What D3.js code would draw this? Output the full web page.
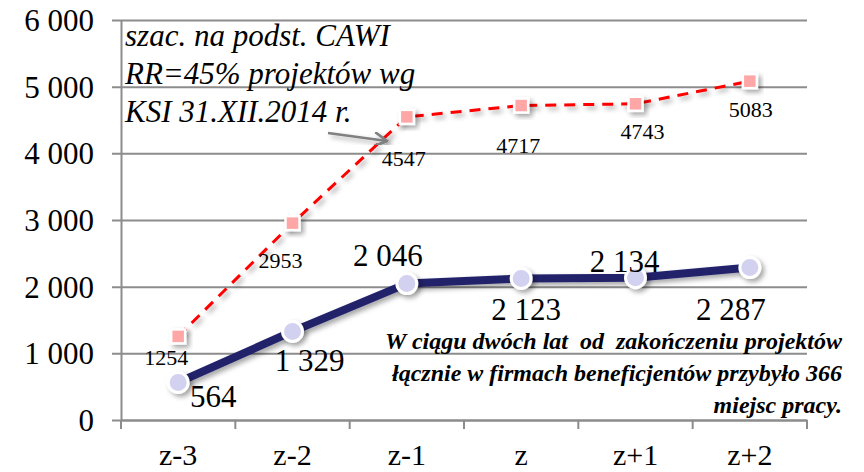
<!DOCTYPE html>
<html>
<head>
<meta charset="utf-8">
<script src="https://cdn.jsdelivr.net/npm/d3@7"></script>
<style>
  body { margin: 0; background: #fff; }
  svg text { font-family: "Liberation Serif", "Times New Roman", Tinos, "DejaVu Serif", serif; }
</style>
</head>
<body>
<svg id="chart" width="864" height="472"></svg>
<script>
// data
var categories = ["z-3", "z-2", "z-1", "z", "z+1", "z+2"];
var jobsKsi = [564, 1329, 2046, 2123, 2134, 2287];
var jobsCawi = [1254, 2953, 4547, 4717, 4743, 5083];
var yTicks = [0, 1000, 2000, 3000, 4000, 5000, 6000];

// label offsets (dx, dy) from each point
var ksiLabelPos = [[35, 25], [17, 40], [-19, -18], [5, 42], [-11, -6], [-19, 52]];
var cawiLabelPos = [[-12, 29], [-12, 45], [-3, 49], [-3, 47], [7, 35], [1, 36]];

var svg = d3.select("#chart");

var plotLeft = 121, plotRight = 807, plotTop = 20, plotBottom = 420;

var x = d3.scaleBand()
    .domain(categories)
    .range([plotLeft, plotRight]);

var y = d3.scaleLinear()
    .domain([0, 6000])
    .range([plotBottom, plotTop]);

var fmt = d => d3.format(",")(d).replace(",", " ");

// shadow filter
var defs = svg.append("defs");
var shadow = defs.append("filter")
    .attr("id", "shadow")
    .attr("x", "-50%").attr("y", "-50%")
    .attr("width", "200%").attr("height", "200%");
shadow.append("feDropShadow")
    .attr("dx", 3).attr("dy", 3)
    .attr("stdDeviation", 2.5)
    .attr("flood-color", "#000")
    .attr("flood-opacity", 0.35);

defs.append("marker")
    .attr("id", "arrow")
    .attr("viewBox", "0 0 10 10")
    .attr("refX", 9).attr("refY", 5)
    .attr("markerWidth", 6).attr("markerHeight", 6)
    .attr("orient", "auto")
    .append("path")
    .attr("d", "M0,0 L9,5 L0,10")
    .attr("fill", "none")
    .attr("stroke", "#808080")
    .attr("stroke-width", 1.8);

// gridlines + y axis
var yAxis = svg.append("g")
    .attr("transform", "translate(" + plotLeft + ",0)")
    .call(d3.axisLeft(y).tickValues(yTicks).tickSize(-(plotRight - plotLeft)).tickSizeOuter(0).tickPadding(27)
        .tickFormat(fmt));
yAxis.select(".domain").attr("stroke", "#8c8c8c").attr("stroke-width", 2);
yAxis.selectAll(".tick line").attr("stroke", "#8c8c8c").attr("stroke-width", 2).attr("x1", -9);
yAxis.selectAll(".tick text")
    .attr("fill", "#000")
    .style("font-size", "31px")
    .attr("dy", "0.34em");

// x axis
var xAxis = svg.append("g")
    .attr("transform", "translate(0," + plotBottom + ")")
    .call(d3.axisBottom(x).tickSize(0).tickPadding(0));
xAxis.select(".domain").attr("stroke", "#8c8c8c").attr("stroke-width", 2);
xAxis.selectAll(".tick text")
    .attr("fill", "#000")
    .attr("dy", 0)
    .attr("y", 45)
    .style("font-size", "30px");
xAxis.selectAll(".sep")
    .data(d3.range(categories.length + 1))
    .enter()
    .append("line")
    .attr("class", "sep")
    .attr("x1", i => plotLeft + i * x.step())
    .attr("x2", i => plotLeft + i * x.step())
    .attr("y1", 0)
    .attr("y2", 9)
    .attr("stroke", "#8c8c8c")
    .attr("stroke-width", 2);

var cx = d => x(d) + x.bandwidth() / 2;

// red dashed series (CAWI estimate)
var lineCawi = d3.line()
    .x((d, i) => cx(categories[i]))
    .y(d => y(d));

svg.append("path")
    .datum(jobsCawi)
    .attr("d", lineCawi)
    .attr("fill", "none")
    .attr("stroke", "#ff0000")
    .attr("stroke-width", 3)
    .attr("stroke-dasharray", "11,8")
    .attr("filter", "url(#shadow)");

svg.append("g")
    .selectAll("rect")
    .data(jobsCawi)
    .enter()
    .append("rect")
    .attr("x", (d, i) => cx(categories[i]) - 7)
    .attr("y", d => y(d) - 7)
    .attr("width", 14)
    .attr("height", 14)
    .attr("fill", "#ffa6a6")
    .attr("stroke", "#fff")
    .attr("stroke-width", 2.5)
    .attr("filter", "url(#shadow)");

svg.append("g")
    .selectAll("text")
    .data(jobsCawi)
    .enter()
    .append("text")
    .attr("x", (d, i) => cx(categories[i]) + cawiLabelPos[i][0])
    .attr("y", (d, i) => y(d) + cawiLabelPos[i][1])
    .attr("text-anchor", "middle")
    .style("font-size", "22px")
    .text(d => d);

// navy series
var lineKsi = d3.line()
    .x((d, i) => cx(categories[i]))
    .y(d => y(d));

svg.append("path")
    .datum(jobsKsi)
    .attr("d", lineKsi)
    .attr("fill", "none")
    .attr("stroke", "#23236b")
    .attr("stroke-width", 8)
    .attr("stroke-linejoin", "round")
    .attr("filter", "url(#shadow)");

svg.append("g")
    .selectAll("circle")
    .data(jobsKsi)
    .enter()
    .append("circle")
    .attr("cx", (d, i) => cx(categories[i]))
    .attr("cy", d => y(d))
    .attr("r", 10)
    .attr("fill", "#d2d2f0")
    .attr("stroke", "#fff")
    .attr("stroke-width", 3)
    .attr("filter", "url(#shadow)");

svg.append("g")
    .selectAll("text")
    .data(jobsKsi)
    .enter()
    .append("text")
    .attr("x", (d, i) => cx(categories[i]) + ksiLabelPos[i][0])
    .attr("y", (d, i) => y(d) + ksiLabelPos[i][1])
    .attr("text-anchor", "middle")
    .style("font-size", "31px")
    .text(fmt);

// top-left note
var note = ["szac. na podst. CAWI", "RR=45% projektów wg", "KSI 31.XII.2014 r."];
svg.append("g")
    .selectAll("text")
    .data(note)
    .enter()
    .append("text")
    .attr("x", 125)
    .attr("y", (d, i) => 46 + i * 38)
    .style("font-size", "31px")
    .style("font-style", "italic")
    .text(d => d);

svg.append("line")
    .attr("x1", 328).attr("y1", 133)
    .attr("x2", 387).attr("y2", 141)
    .attr("stroke", "#808080")
    .attr("stroke-width", 2.5)
    .attr("marker-end", "url(#arrow)")
    .attr("filter", "url(#shadow)");

// bottom-right note
var summary = ["W ciągu dwóch lat  od  zakończeniu projektów",
    "łącznie w firmach beneficjentów przybyło 366",
    "miejsc pracy."];
svg.append("g")
    .selectAll("text")
    .data(summary)
    .enter()
    .append("text")
    .attr("x", 842)
    .attr("y", (d, i) => 349 + i * 32)
    .attr("text-anchor", "end")
    .style("font-size", "24px")
    .style("font-style", "italic")
    .style("font-weight", "bold")
    .style("white-space", "pre")
    .text(d => d);
</script>
</body>
</html>
